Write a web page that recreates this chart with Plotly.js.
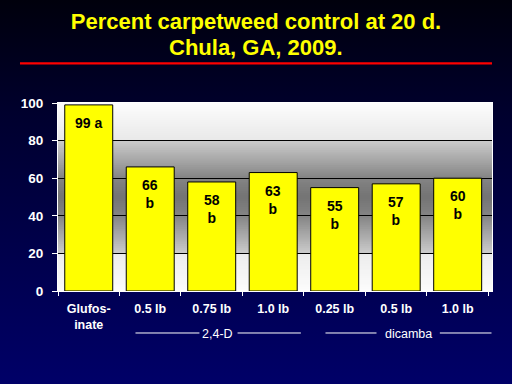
<!DOCTYPE html>
<html>
<head>
<meta charset="utf-8">
<script src="https://cdn.plot.ly/plotly-3.0.1.min.js"></script>
<style>
html, body { margin:0; padding:0; width:512px; height:384px; overflow:hidden;
  background: linear-gradient(to bottom, #00000c 0%, #00002e 30%, #000068 100%); }
#chart { width:512px; height:384px; }
</style>
</head>
<body>
<div id="chart"></div>
<script>
// ---- data ----
const categoryIds = ["glufosinate", "24d_0.5", "24d_0.75", "24d_1.0", "dicamba_0.25", "dicamba_0.5", "dicamba_1.0"];
const tickLabels = ["Glufos-<br>inate", "0.5 lb", "0.75 lb", "1.0 lb", "0.25 lb", "0.5 lb", "1.0 lb"];
const controlPct = [99, 66, 58, 63, 55, 57, 60];
const meanLetters = ["a", "b", "b", "b", "b", "b", "b"];
const groupNames = ["2,4-D", "dicamba"];
const titleLines = ["Percent carpetweed control at 20 d.", "Chula, GA, 2009."];
const yTicks = [0, 20, 40, 60, 80, 100];

const FONT = "'Liberation Sans', Arial, sans-serif";

// bar labels
const annotations = controlPct.map((v, i) => ({
  x: categoryIds[i], y: v, xref: "x", yref: "y",
  text: "<b>" + v + (i === 0 ? " " : "<br>") + meanLetters[i] + "</b>",
  showarrow: false, yanchor: "top", yshift: -8,
  font: {family: FONT, size: 14, color: "#000000"}
}));

// second title line
annotations.push({
  x: 0.4565, y: 1.295, xref: "paper", yref: "paper",
  text: "<b>" + titleLines[1] + "</b>", showarrow: false,
  xanchor: "center", yanchor: "middle",
  font: {family: FONT, size: 22, color: "#ffff00"}
});

// group labels
const groupPos = [2.09, 5.2];
groupNames.forEach((g, k) => annotations.push({
  x: groupPos[k], y: -0.2287, xref: "x", yref: "paper",
  text: g, showarrow: false, yanchor: "middle",
  font: {family: FONT, size: 12.5, color: "#ffffff"}
}));

const shapes = [];
// gradient plot background (stacked strips to avoid seams)
const keys = [[0,252],[20,236],[20,204],[40,132],[50,116],[60,132],[80,204],[80,232],[100,252]];
function grayAt(v) {
  for (let i = 0; i < keys.length - 1; i++) {
    const a = keys[i], b = keys[i+1];
    if (v >= a[0] && v <= b[0] && b[0] > a[0]) {
      return a[1] + (b[1]-a[1]) * (v - a[0]) / (b[0]-a[0]);
    }
  }
  return 250;
}
for (let s = 0; s < 100; s++) {
  const g = Math.round(grayAt(s + 0.5));
  shapes.push({type:"rect", xref:"paper", yref:"y", x0:0, x1:1, y0:s, y1:100,
    fillcolor:`rgb(${g},${g},${g})`, line:{width:0}, layer:"below"});
}
// red rule under title
shapes.push({type:"line", xref:"paper", yref:"paper", x0:-0.0876, x1:1.0, y0:1.211, y1:1.211,
  line:{color:"#ff0000", width:2.2}});
// group bracket lines
const groupLines = [[0.76,1.80],[2.42,3.45],[3.85,4.68],[5.71,6.55]];
groupLines.forEach(l => shapes.push({type:"line", xref:"x", yref:"paper", x0:l[0], x1:l[1],
  y0:-0.2234, y1:-0.2234, line:{color:"#ffffff", width:1}}));

const trace = {
  type: "bar", x: categoryIds, y: controlPct,
  marker: {color: "#ffff00", line: {color: "#000000", width: 1}},
  hoverinfo: "none"
};

const layout = {
  width: 512, height: 384,
  margin: {l: 58, r: 20.3, t: 103, b: 93},
  paper_bgcolor: "rgba(0,0,0,0)", plot_bgcolor: "rgba(0,0,0,0)",
  showlegend: false, bargap: 0.22,
  title: {text: "<b>" + titleLines[0] + "</b>",
    xref: "container", x: 0.5, xanchor: "center",
    yref: "container", y: 0.945, yanchor: "middle",
    font: {family: FONT, size: 22, color: "#ffff00"}},
  xaxis: {type: "category", tickmode: "array", tickvals: categoryIds, ticktext: tickLabels.map(t => "<b>" + t + "</b>"),
    tickson: "boundaries", ticks: "outside", ticklen: 4, tickcolor: "#ffffff", tickwidth: 1,
    showline: true, linecolor: "#ffffff", linewidth: 1, mirror: true,
    showgrid: false, ticklabelstandoff: 6,
    tickfont: {family: FONT, size: 12.5, color: "#ffffff"}},
  yaxis: {range: [0, 100], tickmode: "array", tickvals: yTicks, ticktext: yTicks.map(t => "<b>" + t + "</b>"),
    ticks: "outside", ticklen: 5, tickcolor: "#ffffff", tickwidth: 1,
    showline: true, linecolor: "#ffffff", linewidth: 1, mirror: true,
    showgrid: true, gridcolor: "#000000", gridwidth: 1, zeroline: false,
    ticklabelstandoff: 6,
    tickfont: {family: FONT, size: 13.5, color: "#ffffff"}},
  annotations: annotations,
  shapes: shapes
};

Plotly.newPlot("chart", [trace], layout, {staticPlot: true, displayModeBar: false});
</script>
</body>
</html>
